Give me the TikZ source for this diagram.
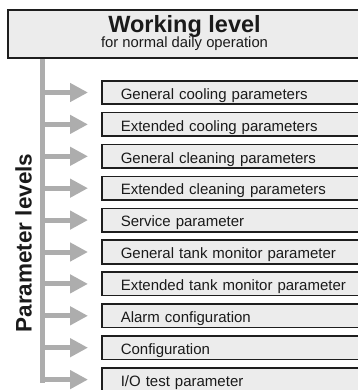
\documentclass[tikz,border=0pt]{standalone}
\usepackage{fontspec}
\setmainfont{Liberation Sans}
\usetikzlibrary{arrows.meta}
\definecolor{boxfill}{HTML}{ECECEC}
\definecolor{boxline}{HTML}{1E1E1E}
\definecolor{bargray}{HTML}{ADADAD}
\definecolor{txt}{HTML}{1A1A1A}
\begin{document}
\begin{tikzpicture}[x=1pt,y=-1pt,
  pbox/.style={draw=boxline, line width=1.6pt, fill=boxfill, anchor=west,
    minimum height=23.5pt, inner ysep=0pt, inner xsep=19pt, text width=250pt,
    align=left, text height=14pt, text depth=0.5pt, text=txt,
    font=\fontsize{15}{15}\selectfont},
  topbox/.style={draw=boxline, line width=2.2pt, fill=boxfill, anchor=north west,
    minimum width=355pt, minimum height=48pt, inner sep=0pt},
  bar/.style={draw=bargray, line width=5pt},
  parr/.style={draw=bargray, line width=5pt, shorten >=13pt,
    -{Triangle[length=18pt,width=18pt]}},
  title/.style={anchor=base, text=txt, inner sep=0pt}
]
\useasboundingbox (0,0) rectangle (357,390);
% vertical bar
\coordinate (bt) at (42.5,57);
\coordinate (bb) at (42.5,382.5);
\draw[bar] (bt) -- (bb);
% top box
\node[topbox] (wl) at (7,9) {};
\node[title, font=\fontsize{23.5}{23.5}\selectfont\bfseries] (wt) at (184.5,32.2) {Working level};
\node[title, font=\fontsize{14.8}{14.8}\selectfont] (ws) at (184.5,47.8) {for normal daily operation};
% side label
\node[title, rotate=90, font=\fontsize{22.5}{22.5}\selectfont\bfseries] (pl) at (31.7,243) {Parameter levels};
% parameter boxes and arrows
\foreach \t [count=\i from 0] in {General cooling parameters,Extended cooling parameters,General cleaning parameters,Extended cleaning parameters,Service parameter,General tank monitor parameter,Extended tank monitor parameter,Alarm configuration,Configuration,I/O test parameter}{
  \pgfmathsetmacro\yc{92.5+31.9*\i}
  \node[pbox] (b\i) at (101,\yc) {\t};
  \coordinate (s\i) at (43,\yc);
  \draw[parr] (s\i) -- (b\i.west);
}
\end{tikzpicture}
\end{document}
